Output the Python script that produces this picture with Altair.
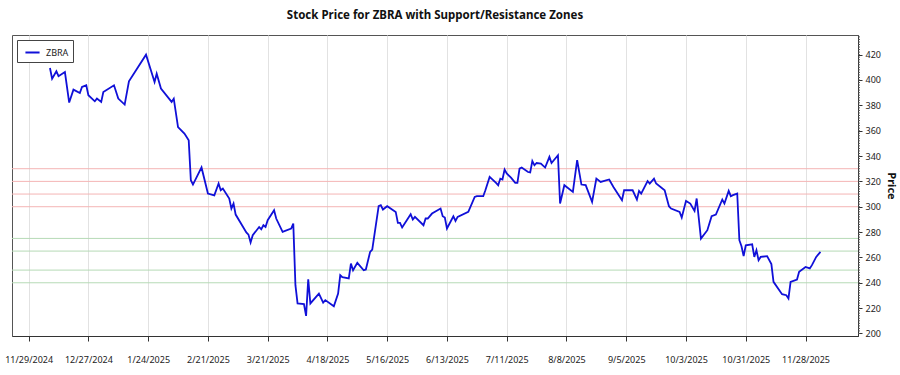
import altair as alt
import pandas as pd

dates = [
    "2024-12-09", "2024-12-10", "2024-12-12", "2024-12-13", "2024-12-16", "2024-12-18", "2024-12-20",
    "2024-12-23", "2024-12-24", "2024-12-26", "2024-12-27", "2024-12-30", "2024-12-31", "2025-01-02",
    "2025-01-03", "2025-01-08", "2025-01-10", "2025-01-13", "2025-01-15", "2025-01-23", "2025-01-27",
    "2025-01-28", "2025-01-30", "2025-02-04", "2025-02-05", "2025-02-07", "2025-02-10", "2025-02-12",
    "2025-02-13", "2025-02-14", "2025-02-18", "2025-02-21", "2025-02-24", "2025-02-26", "2025-02-27",
    "2025-02-28", "2025-03-03", "2025-03-04", "2025-03-05", "2025-03-06", "2025-03-11", "2025-03-12",
    "2025-03-13", "2025-03-14", "2025-03-17", "2025-03-18", "2025-03-19", "2025-03-20", "2025-03-21",
    "2025-03-24", "2025-03-25", "2025-03-28", "2025-04-01", "2025-04-02", "2025-04-03", "2025-04-04",
    "2025-04-07", "2025-04-08", "2025-04-09", "2025-04-10", "2025-04-14", "2025-04-16", "2025-04-17",
    "2025-04-21", "2025-04-23", "2025-04-24", "2025-04-25", "2025-04-28", "2025-04-29", "2025-04-30",
    "2025-05-02", "2025-05-05", "2025-05-06", "2025-05-08", "2025-05-09", "2025-05-12", "2025-05-13",
    "2025-05-14", "2025-05-16", "2025-05-20", "2025-05-21", "2025-05-22", "2025-05-23", "2025-05-27",
    "2025-05-28", "2025-05-29", "2025-06-02", "2025-06-03", "2025-06-04", "2025-06-06", "2025-06-10",
    "2025-06-11", "2025-06-12", "2025-06-13", "2025-06-16", "2025-06-17", "2025-06-18", "2025-06-23",
    "2025-06-26", "2025-06-27", "2025-06-30", "2025-07-01", "2025-07-03", "2025-07-06", "2025-07-07",
    "2025-07-08", "2025-07-09", "2025-07-10", "2025-07-11", "2025-07-13", "2025-07-15", "2025-07-16",
    "2025-07-17", "2025-07-18", "2025-07-21", "2025-07-22", "2025-07-23", "2025-07-24", "2025-07-25",
    "2025-07-27", "2025-07-29", "2025-07-31", "2025-08-01", "2025-08-04", "2025-08-05", "2025-08-07",
    "2025-08-11", "2025-08-13", "2025-08-15", "2025-08-17", "2025-08-20", "2025-08-22", "2025-08-24",
    "2025-08-28", "2025-08-30", "2025-09-03", "2025-09-04", "2025-09-08", "2025-09-10", "2025-09-11",
    "2025-09-12", "2025-09-15", "2025-09-16", "2025-09-18", "2025-09-19", "2025-09-23", "2025-09-25",
    "2025-09-26", "2025-09-30", "2025-10-01", "2025-10-03", "2025-10-05", "2025-10-07", "2025-10-08",
    "2025-10-10", "2025-10-13", "2025-10-15", "2025-10-17", "2025-10-20", "2025-10-21", "2025-10-23",
    "2025-10-24", "2025-10-25", "2025-10-27", "2025-10-28", "2025-10-29", "2025-10-30", "2025-10-31",
    "2025-11-03", "2025-11-04", "2025-11-05", "2025-11-06", "2025-11-07", "2025-11-10", "2025-11-12",
    "2025-11-13", "2025-11-17", "2025-11-19", "2025-11-20", "2025-11-21", "2025-11-24", "2025-11-25",
    "2025-11-28", "2025-11-30", "2025-12-01", "2025-12-03", "2025-12-05",
]
prices = [
    409.5, 401.0, 406.9, 403.0, 406.3, 382.2, 392.4,
    389.7, 394.5, 395.8, 388.0, 383.2, 385.3, 382.7,
    390.5, 395.8, 385.3, 380.6, 399.0, 420.0, 398.4,
    405.0, 393.2, 382.7, 385.3, 362.9, 357.7, 352.4,
    320.9, 317.5, 331.0, 310.4, 309.0, 318.3, 313.0,
    314.4, 306.5, 298.6, 302.5, 293.8, 279.7, 278.0,
    271.8, 277.5, 284.0, 282.3, 285.4, 284.0, 289.4,
    297.2, 290.7, 280.1, 282.8, 286.7, 238.1, 223.7,
    223.1, 213.9, 242.8, 223.7, 231.5, 224.4, 226.3,
    221.5, 231.5, 246.0, 244.5, 243.4, 255.2, 249.9,
    255.7, 249.9, 250.5, 264.4, 266.2, 300.4, 301.2,
    297.8, 300.4, 295.9, 287.2, 287.2, 283.6, 294.1,
    289.9, 292.0, 285.4, 290.7, 290.7, 294.6, 298.6,
    292.5, 291.5, 282.8, 292.5, 288.8, 292.0, 295.9,
    307.7, 308.3, 308.3, 313.0, 323.5, 318.8, 317.0,
    322.2, 321.5, 329.3, 326.2, 323.0, 318.8, 318.8,
    330.1, 330.9, 327.4, 327.0, 336.1, 332.7, 334.5,
    334.0, 330.9, 339.3, 334.5, 340.6, 302.5, 317.0,
    311.7, 336.7, 317.5, 317.0, 303.8, 322.2, 319.6,
    321.5, 315.6, 305.1, 313.0, 313.0, 305.7, 312.5,
    310.4, 320.3, 318.3, 322.2, 318.3, 313.0, 300.4,
    298.6, 295.9, 291.5, 304.6, 302.5, 296.7, 306.5,
    274.9, 281.5, 292.5, 293.8, 305.7, 302.5, 312.5,
    308.3, 309.1, 310.4, 273.6, 268.8, 261.0, 269.6,
    270.4, 260.4, 265.7, 257.8, 260.4, 261.0, 254.7,
    240.7, 231.0, 230.2, 227.6, 240.7, 242.6, 248.6,
    252.5, 251.3, 253.9, 260.4, 264.4,
]
symbol = "ZBRA"
resistance_levels = [300, 310, 320, 330]
support_levels = [240, 250, 265, 275]
x_tick_dates = [
    (2024, 11, 29), (2024, 12, 27), (2025, 1, 24), (2025, 2, 21), (2025, 3, 21), (2025, 4, 18),
    (2025, 5, 16), (2025, 6, 13), (2025, 7, 11), (2025, 8, 8), (2025, 9, 5), (2025, 10, 3),
    (2025, 10, 31), (2025, 11, 28),
]
y_ticks = [200, 220, 240, 260, 280, 300, 320, 340, 360, 380, 400, 420]
y_minor_ticks = list(range(200, 436, 2))

W, H = 846, 301
FONT = "Noto Sans"

df = pd.DataFrame({"date": dates, "price": prices, "symbol": symbol})
res_df = pd.DataFrame({"level": resistance_levels})
sup_df = pd.DataFrame({"level": support_levels})
minor_df = pd.DataFrame({"v": y_minor_ticks})

x_scale = alt.Scale(
    type="utc",
    domain=[
        alt.DateTime(year=2024, month=11, date=21, hours=5, utc=True),
        alt.DateTime(year=2025, month=12, date=22, hours=14, utc=True),
    ],
)
y_scale = alt.Scale(domain=[198, 435.5], zero=False, nice=False)

x_axis = alt.Axis(
    values=[alt.DateTime(year=y, month=m, date=d, utc=True) for (y, m, d) in x_tick_dates],
    format="%-m/%-d/%Y",
    grid=True,
    gridColor="#e2e2e2",
    tickSize=5,
    tickColor="#333333",
    domainColor="#333333",
    labelPadding=14,
    labelFontSize=9,
    labelFont=FONT,
    labelColor="#222222",
    labelOverlap=False,
    labelFlush=False,
    title=None,
)
y_axis = alt.Axis(
    orient="right",
    values=y_ticks,
    grid=False,
    tickSize=4,
    tickColor="#333333",
    domainColor="#333333",
    labelPadding=3,
    labelFontSize=9,
    labelFont=FONT,
    labelColor="#222222",
    title="Price",
    titleFont=FONT,
    titleFontSize=11,
    titleFontWeight="bold",
    titleColor="#111111",
    titlePadding=5,
)

res_rules = alt.Chart(res_df).mark_rule(strokeWidth=1, color="#f4b4b4").encode(
    y=alt.Y("level:Q", scale=y_scale, axis=y_axis, title="Price")
)
sup_rules = alt.Chart(sup_df).mark_rule(strokeWidth=1, color="#b6dab6").encode(
    y=alt.Y("level:Q", scale=y_scale, axis=y_axis, title="Price")
)
minor = alt.Chart(minor_df).mark_rule(strokeWidth=1, color="#555555").encode(
    y=alt.Y("v:Q", scale=y_scale, axis=y_axis, title="Price"),
    x=alt.value(W),
    x2=alt.value(W + 2),
)
line = alt.Chart(df).mark_line(strokeWidth=1.8).encode(
    x=alt.X("date:T", scale=x_scale, axis=x_axis),
    y=alt.Y("price:Q", scale=y_scale, axis=y_axis, title="Price"),
    color=alt.Color(
        "symbol:N",
        scale=alt.Scale(range=["#1010d8"]),
        legend=alt.Legend(
            title=None,
            orient="none",
            legendX=5,
            legendY=5,
            strokeColor="#444444",
            fillColor="white",
            padding=4,
            symbolOffset=3,
            labelOffset=5,
            symbolType="stroke",
            symbolSize=200,
            symbolStrokeWidth=2,
            labelFont=FONT,
            labelFontSize=9,
            labelColor="#222222",
            cornerRadius=0,
        ),
    ),
)

chart = (
    alt.layer(res_rules, sup_rules, minor, line)
    .properties(
        width=W,
        height=H,
        title=alt.Title(
            "Stock Price for ZBRA with Support/Resistance Zones",
            font=FONT,
            fontSize=11.5,
            fontWeight="bold",
            color="#111111",
            offset=14,
        ),
        padding={"left": 12, "top": 35, "right": 42, "bottom": 39},
        autosize=alt.AutoSizeParams(type="none"),
    )
    .configure_view(stroke="#555555", strokeWidth=1)
)

chart.save("out.html", embed_options={"renderer": "svg", "actions": False})
